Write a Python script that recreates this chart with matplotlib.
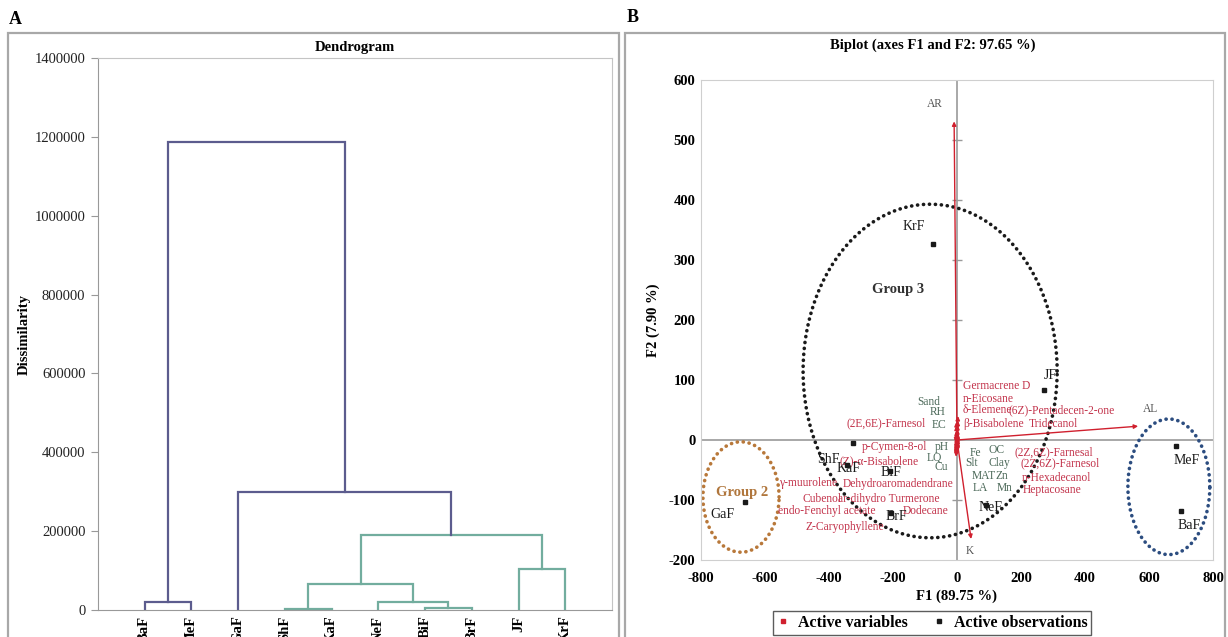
import matplotlib
matplotlib.use("Agg")
import matplotlib.pyplot as plt
from matplotlib.patches import Rectangle
from matplotlib.lines import Line2D
import numpy as np

plt.rcParams['font.family'] = ['Liberation Serif', 'DejaVu Serif']
plt.rcParams['axes.unicode_minus'] = False

# ---------------- Dendrogram data ----------------
leaves = ['BaF', 'MeF', 'GaF', 'ShF', 'KaF', 'NeF', 'BiF', 'BrF', 'JF', 'KrF']
# agglomeration steps: node ids 10.. are created in order
merge_left = [0, 3, 6, 5, 11, 8, 14, 2, 10]
merge_right = [1, 4, 7, 12, 13, 9, 15, 16, 17]
merge_height = [21000, 1700, 5900, 21000, 65700, 103600, 189500, 299000, 1186000]
green_root = 16          # node whose subtree is drawn as its own class
dendro_yticks = [0, 200000, 400000, 600000, 800000, 1000000, 1200000, 1400000]

# ---------------- Biplot data ----------------
obs_names = ['KrF', 'JF', 'MeF', 'BaF', 'NeF', 'ShF', 'KaF', 'BiF', 'BrF', 'GaF']
obs_f1 = [-75, 272, 684, 700, 90, -325, -345, -210, -205, -663]
obs_f2 = [327, 83, -10, -118, -108, -5, -42, -52, -122, -103]

var_names = ['AR', 'AL', 'K',
             'Germacrene D', 'n-Eicosane', 'δ-Elemene', 'β-Bisabolene',
             '(6Z)-Pentadecen-2-one', 'Tridecanol', '(2E,6E)-Farnesol',
             'p-Cymen-8-ol', '(Z)-α-Bisabolene', 'γ-muurolene',
             'Dehydroaromadendrane', 'Cubenol', 'ar-dihydro Turmerone',
             'endo-Fenchyl acetate', 'Dodecane', 'Z-Caryophyllene',
             '(2Z,6Z)-Farnesal', '(2Z,6Z)-Farnesol', 'n-Hexadecanol', 'Heptacosane',
             'Sand', 'RH', 'EC', 'pH', 'LQ', 'Cu', 'Fe', 'OC', 'Slt', 'Clay',
             'MAT', 'Zn', 'LA', 'Mn']
var_f1 = [-9, 566, 44,
          3, 3, 2, 2, 4, 3, -2, -2, -2, -3, -2, -3, -2, -3, -2, -3,
          3, 3, 3, 3,
          -2, -2, -2, -2, -2, -2, 2, 3, 2, 3, 2, 3, 2, 3]
var_f2 = [531, 23, -165,
          40, 32, 25, 18, 12, 8, 14, -5, -10, -15, -18, -20, -22, -25, -24, -28,
          -6, -10, -14, -18,
          30, 24, 16, -4, -12, -16, -3, -5, -20, -9, -14, -11, -18, -13]
var_kind = ['axis'] * 3 + ['compound'] * 20 + ['site'] * 14

# label placement (data units) for variable names
var_lab_x = [-69, 581, 41,
             19, 19, 19, 19, 160, 225, -344, -297, -366, -553, -356, -484, -372,
             -559, -169, -475, 181, 197, 203, 206,
             -125, -84, -78, -69, -94, -69, 41, 97, 25, 97, 47, 119, 50, 125]
var_lab_y = [560, 52, -185,
             90, 68, 50, 27, 50, 27, 28, -12, -35, -72, -73, -98, -98,
             -118, -118, -145, -20, -38, -63, -83,
             64, 47, 25, -12, -30, -45, -22, -17, -38, -38, -60, -60, -80, -80]
# label placement (data units) for observation names
obs_lab_x = [-134, 291, 719, 725, 106, -403, -338, -206, -191, -734]
obs_lab_y = [355, 107, -35, -142, -112, -33, -47, -55, -127, -125]

# class ellipses: centre and semi-axes (data units)
groups = ['Group 1', 'Group 2', 'Group 3']
group_cx = [662, -675, -84]
group_cy = [-78, -95, 115]
group_a = [128, 119, 397]
group_b = [113, 92, 278]

W, H = 1228, 637
fig = plt.figure(figsize=(W / 100, H / 100), dpi=100)


def fx(px):
    return px / W


def fy(py):
    return 1 - py / H


# panel frames
for x0, x1 in [(8, 619), (625, 1225)]:
    fig.patches.append(Rectangle((fx(x0), -0.1), fx(x1) - fx(x0), fy(33) + 0.1,
                                 transform=fig.transFigure, fill=False,
                                 edgecolor='#a8a8a8', lw=1.6))
fig.text(fx(9), fy(20), 'A', fontsize=13, fontweight='bold', va='center', ha='left')
fig.text(fx(627), fy(17), 'B', fontsize=13, fontweight='bold', va='center', ha='left')

# ---------------- Panel A: dendrogram ----------------
axA = fig.add_axes([fx(98), fy(610), fx(612) - fx(98), fy(58) - fy(610)])
purple = '#5c5c8e'
green = '#72ad9e'

n = len(leaves)
xpos = {i: float(i) for i in range(n)}
hgt = {i: 0.0 for i in range(n)}
children = {}
for k, (a, b, h) in enumerate(zip(merge_left, merge_right, merge_height)):
    node = n + k
    children[node] = (a, b)
    xpos[node] = (xpos[a] + xpos[b]) / 2
    hgt[node] = h


def subtree(node):
    out = {node}
    if node in children:
        for c in children[node]:
            out |= subtree(c)
    return out


green_nodes = subtree(green_root)
for k, (a, b, h) in enumerate(zip(merge_left, merge_right, merge_height)):
    node = n + k
    col = green if node in green_nodes else purple
    axA.plot([xpos[a], xpos[a], xpos[b], xpos[b]], [hgt[a], h, h, hgt[b]],
             color=col, lw=1.6, solid_joinstyle='miter')

axA.set_xlim(-1, 10)
axA.set_ylim(0, 1400000)
axA.set_yticks(dendro_yticks)
axA.set_yticklabels([str(v) for v in dendro_yticks], fontsize=10.5, color='#222')
axA.set_xticks(range(n))
axA.set_xticklabels(leaves, rotation=90, fontsize=10.5, fontweight='bold')
axA.tick_params(axis='x', length=0, pad=4)
axA.tick_params(axis='y', length=5, color='#999', pad=4)
for s in ['top', 'right']:
    axA.spines[s].set_color('#c4c4c4')
for s in ['left', 'bottom']:
    axA.spines[s].set_color('#999')
axA.set_ylabel('Dissimilarity', fontsize=10.5, fontweight='bold', labelpad=3)
fig.text(fx(355), fy(48), 'Dendrogram', fontsize=10.5, fontweight='bold',
         ha='center', va='center')

# ---------------- Panel B: biplot ----------------
axB = fig.add_axes([fx(701), fy(560), fx(1213) - fx(701), fy(80) - fy(560)])
axB.set_xlim(-800, 800)
axB.set_ylim(-200, 600)
axB.axvline(0, color='#9a9a9a', lw=1.2, zorder=1)
axB.axhline(0, color='#9a9a9a', lw=1.2, zorder=1)
axB.plot([0] * 6, [-100, 100, 200, 300, 400, 500], ls='', marker='_',
         ms=7, color='#9a9a9a', mew=1, zorder=1)

red = '#d0202e'
for name, x, y in zip(var_names, var_f1, var_f2):
    axB.annotate('', xy=(x, y), xytext=(0, 0),
                 arrowprops=dict(arrowstyle='-|>', color=red, lw=1.0,
                                 mutation_scale=6, shrinkA=0, shrinkB=0),
                 zorder=3)

label_colors = {'axis': '#555555', 'compound': '#c2324a', 'site': '#4d6a5a'}
for name, kind, lx, ly in zip(var_names, var_kind, var_lab_x, var_lab_y):
    ha = 'center' if kind == 'axis' and name != 'AL' else 'left'
    axB.text(lx, ly, name, fontsize=8.3, color=label_colors[kind],
             ha=ha, va='center', zorder=4)

axB.plot(obs_f1, obs_f2, ls='', marker='s', ms=2.6, color='#1a1a1a', zorder=5)
for name, lx, ly in zip(obs_names, obs_lab_x, obs_lab_y):
    axB.text(lx, ly, name, fontsize=10, color='#1a1a1a', ha='center',
             va='center', zorder=5)

group_colors = ['#2c4d80', '#b8783a', '#1a1a1a']
t = np.linspace(0, 2 * np.pi, 600)
for cx, cy, a, b, col in zip(group_cx, group_cy, group_a, group_b, group_colors):
    axB.plot(cx + a * np.cos(t), cy + b * np.sin(t), color=col, lw=2.6,
             ls=(0, (0.05, 1.6)), dash_capstyle='round', zorder=2)

axB.text(-184, 250, 'Group 3', fontsize=10.5, fontweight='bold', color='#333',
         ha='center', va='center')
axB.text(-672, -88, 'Group 2', fontsize=10.5, fontweight='bold', color='#b0763c',
         ha='center', va='center')

axB.set_xticks([-800, -600, -400, -200, 0, 200, 400, 600, 800])
axB.set_yticks([-200, -100, 0, 100, 200, 300, 400, 500, 600])
for lab in axB.get_xticklabels() + axB.get_yticklabels():
    lab.set_fontweight('bold')
    lab.set_fontsize(10.5)
axB.tick_params(axis='x', length=0, pad=9)
axB.tick_params(axis='y', length=0, pad=4)
for s in axB.spines.values():
    s.set_color('#cfcfcf')
axB.set_xlabel('F1 (89.75 %)', fontsize=10.5, fontweight='bold', labelpad=3)
axB.set_ylabel('F2 (7.90 %)', fontsize=10.5, fontweight='bold', labelpad=6)
fig.text(fx(933), fy(45), 'Biplot (axes F1 and F2: 97.65 %)', fontsize=10.5,
         fontweight='bold', ha='center', va='center')

handles = [Line2D([], [], ls='', marker='s', ms=2.5, color=red),
           Line2D([], [], ls='', marker='s', ms=2.5, color='#1a1a1a')]
leg = fig.legend(handles, ['Active variables', 'Active observations'],
                 loc='center', bbox_to_anchor=(fx(932), fy(623)),
                 bbox_transform=fig.transFigure, ncol=2, frameon=True,
                 fancybox=False, edgecolor='#333', handlelength=0.8,
                 handletextpad=0.5, columnspacing=1.6, borderpad=0.25,
                 prop={'weight': 'bold', 'size': 11.5})
leg.get_frame().set_linewidth(1.0)

fig.savefig('out.png', dpi=100)
